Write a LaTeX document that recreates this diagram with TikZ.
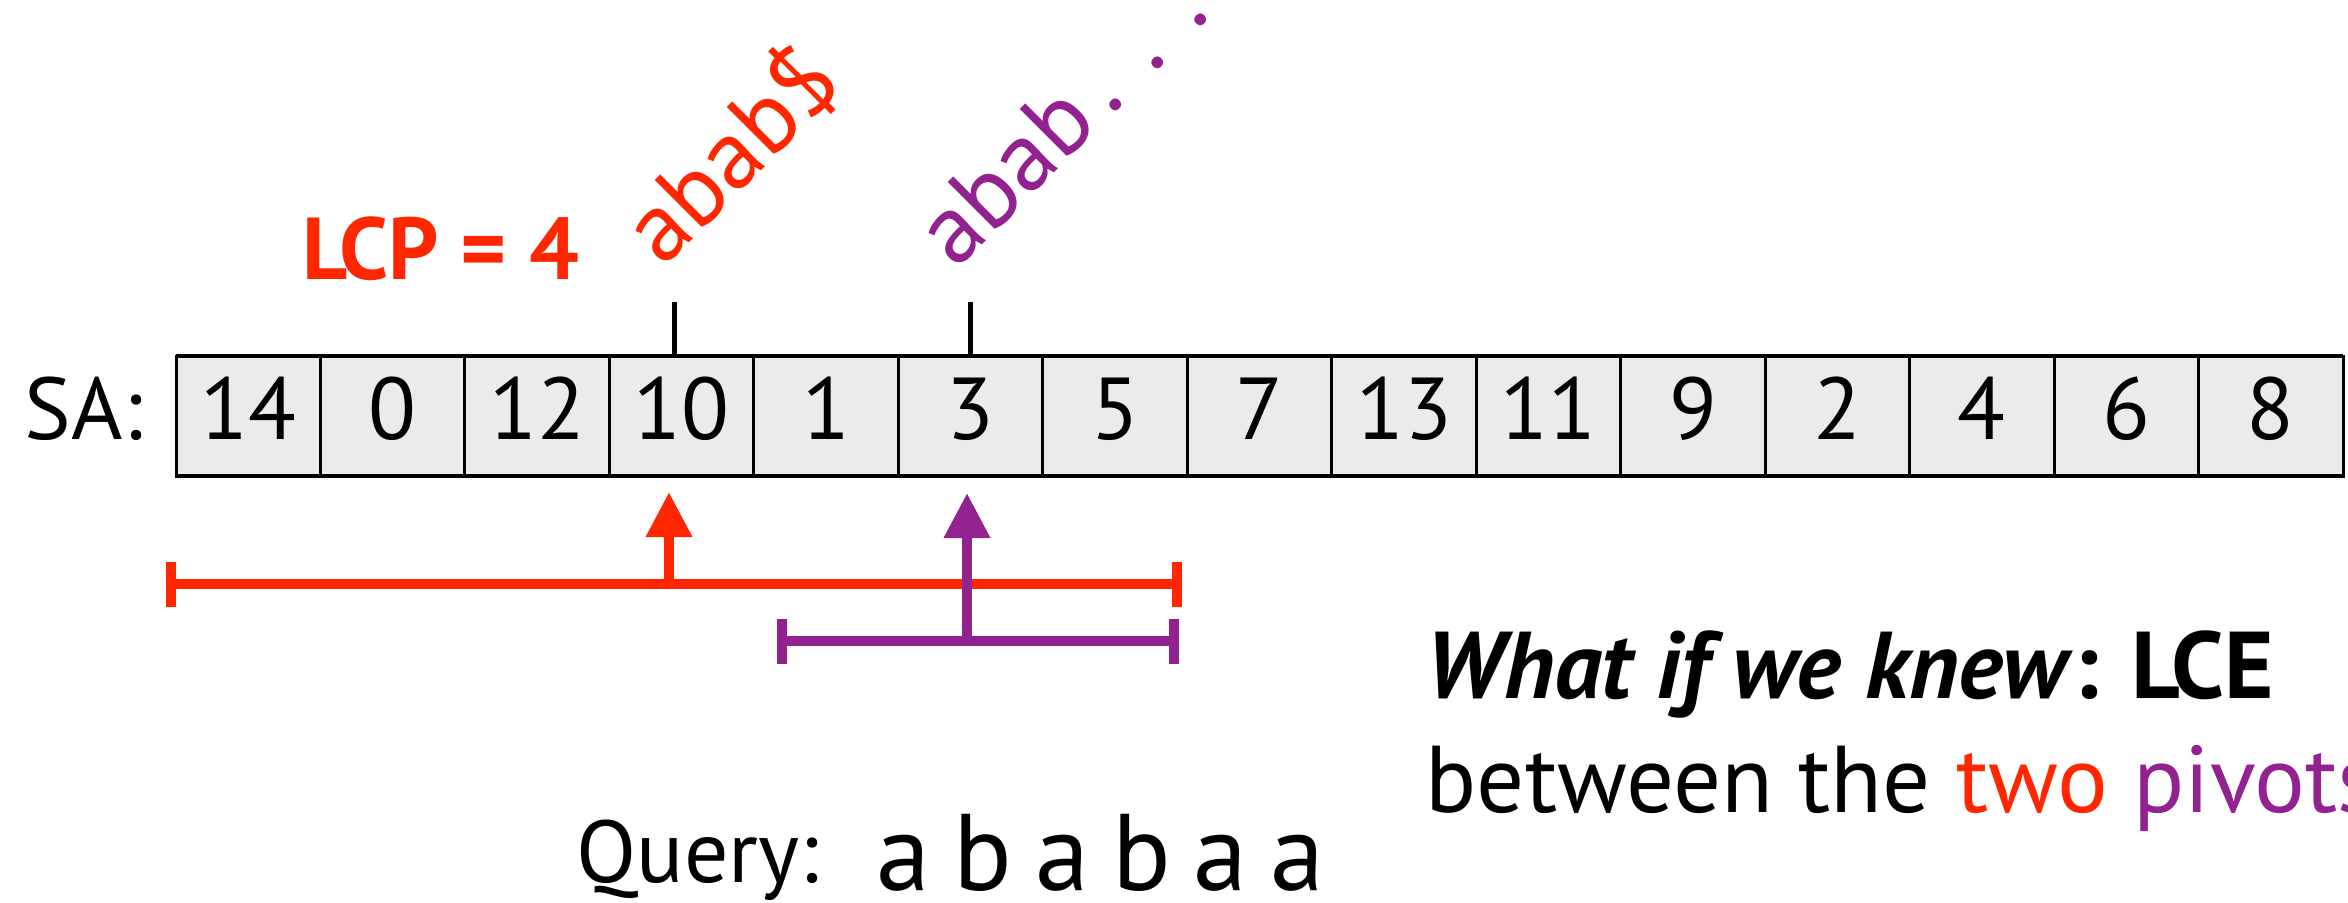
\documentclass[tikz,border=0pt]{standalone}
\usepackage{fontspec}
\setmainfont{PT Sans}
\usetikzlibrary{arrows.meta}
\definecolor{lcpred}{RGB}{255,38,0}
\definecolor{pivotpurple}{RGB}{146,34,144}
\definecolor{cellgray}{RGB}{235,235,235}

\begin{document}
\begin{tikzpicture}[
  sacell/.style={draw, fill=cellgray, line width=0.03cm, minimum width=1.4447cm,
    minimum height=1.2cm, inner sep=0pt, outer sep=0pt,
    text height=0.46cm, text depth=0pt, font=\fontsize{25}{30}\selectfont},
  lcpspan/.style={line width=0.1cm, {Bar[width=0.45cm]}-{Bar[width=0.45cm]}},
  pivotarrow/.style={line width=0.1cm, -{Triangle[length=0.45cm, width=0.44cm]}},
  bigtext/.style={font=\fontsize{27}{32}\selectfont, inner sep=0pt},
  suffix/.style={inner sep=0pt, font=\fontsize{28}{33}\selectfont, rotate=45, anchor=base west},
]
\useasboundingbox (0,0) rectangle (23.48,9.02);

% the suffix array
\foreach \v [count=\i from 0] in {14,0,12,10,1,3,5,7,13,11,9,2,4,6,8}
  \node[sacell] (c\i) at ({1.76+(\i+0.5)*1.4447}, 4.86) {\v};
\draw[line width=0.045cm] (c0.north west) -- (c14.north east);
\draw[line width=0.045cm] (c0.south west) -- (c14.south east);
\node[bigtext, anchor=base east, font=\fontsize{25}{30}\selectfont] (salbl) at (1.43,4.63) {SA:};

% suffixes at the two pivots
\draw[line width=0.05cm] ([xshift=-0.07cm]c3.north) -- ++(0,0.54);
\draw[line width=0.05cm] (c5.north) -- ++(0,0.54);
\node[suffix, text=lcpred] (sufred) at (6.63,6.33) {abab\$};
\node[suffix, text=pivotpurple] (sufpurple) at (9.56,6.31)
  {abab\hspace{0.15em}.\hspace{0.4em}.\hspace{0.4em}.};
\node[bigtext, font=\bfseries\fontsize{25}{30}\selectfont, text=lcpred, anchor=base east]
  (lcp) at (5.80,6.23) {LCP = 4};

% search ranges and their pivots
\coordinate (redL) at (1.66,3.18);
\coordinate (redR) at (11.82,3.18);
\coordinate (redfoot) at (6.69,3.18);
\coordinate (redtip) at (6.69,4.10);
\coordinate (purL) at (7.77,2.61);
\coordinate (purR) at (11.79,2.61);
\coordinate (purfoot) at (9.67,2.61);
\coordinate (purtip) at (9.67,4.09);
\draw[lcpspan, lcpred] (redL) -- (redR);
\draw[pivotarrow, lcpred] (redfoot) -- (redtip);
\draw[lcpspan, pivotpurple] (purL) -- (purR);
\draw[pivotarrow, pivotpurple] (purfoot) -- (purtip);

% query and remark
\node[bigtext, font=\fontsize{25}{30}\selectfont, anchor=base west] (query) at (5.76,0.20) {Query:};
\node[bigtext, font=\fontsize{31}{36}\selectfont, anchor=base west] (pattern) at (8.76,0.12)
  {\spaceskip=0.21em a b a b a a};
\node[bigtext, anchor=base west] (whatif) at (14.25,2.04)
  {\textbf{\textit{What if we knew}}\textbf{: LCE}};
\node[bigtext, anchor=base west] (between) at (14.25,0.90)
  {between the \textcolor{lcpred}{two} \textcolor{pivotpurple}{pivots}};
\end{tikzpicture}
\end{document}
